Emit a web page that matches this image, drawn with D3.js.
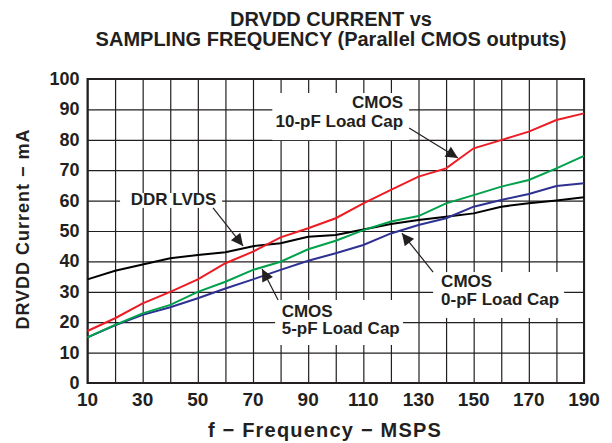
<!DOCTYPE html>
<html>
<head>
<meta charset="utf-8">
<script src="https://cdn.jsdelivr.net/npm/d3@7"></script>
<style>
  body { margin: 0; background: #fff; }
  text { font-family: "Liberation Sans", Arial, sans-serif; font-weight: bold; fill: #231f20; }
</style>
</head>
<body>
<div id="chart"></div>
<script>
// data (MSPS vs mA)
var freq = [10, 20, 30, 40, 50, 60, 70, 80, 90, 100, 110, 120, 130, 140, 150, 160, 170, 180, 190];
var ddrLvds = [34.1, 36.9, 39, 41, 42.1, 43, 45, 46, 48.1, 48.7, 50.5, 52.3, 53.6, 54.7, 55.8, 58, 59.1, 60, 61.1];
var cmos0pF = [15, 19, 22.4, 24.9, 27.9, 31.1, 34.1, 37.2, 40.2, 42.7, 45.4, 49.2, 52, 54.2, 58, 60.2, 62.2, 64.8, 65.7];
var cmos5pF = [15, 19.1, 22.9, 25.7, 30, 33.3, 37.2, 39.9, 44, 46.8, 50.3, 53.1, 54.9, 59.1, 61.8, 64.6, 66.8, 70.6, 74.7];
var cmos10pF = [17.1, 21.3, 26.2, 30, 34.1, 39.4, 43.2, 47.9, 50.9, 54.2, 59.1, 63.5, 67.9, 70.6, 77.2, 79.9, 82.7, 86.5, 88.7];

var xTicks = [10, 30, 50, 70, 90, 110, 130, 150, 170, 190];
var yTicks = [0, 10, 20, 30, 40, 50, 60, 70, 80, 90, 100];

var series = [
  {name: "DDR LVDS", values: ddrLvds, color: "#000000"},
  {name: "CMOS 0-pF", values: cmos0pF, color: "#2e3192"},
  {name: "CMOS 5-pF", values: cmos5pF, color: "#00a14b"},
  {name: "CMOS 10-pF", values: cmos10pF, color: "#ed1c24"}
];

// callouts, in data units
var notes = [
  {lines: ["CMOS", "10-pF Load Cap"], anchor: "end", tx: 124.4, ty: [90.5, 84.3],
   box: [77, 126.6, 95.4, 79.9], from: [126.6, 83.9], to: [144.3, 74]},
  {lines: ["DDR LVDS"], anchor: "middle", tx: 41.2, ty: [58.6],
   box: [21.8, 58.8, 62.5, 57.6], from: [55.5, 57.6], to: [66.4, 45.1]},
  {lines: ["CMOS", "5-pF Load Cap"], anchor: "start", tx: 80.4, ty: [21.8, 16.1],
   box: [78, 124.4, 27.3, 12.5], from: [79.1, 27.3], to: [73.3, 37.5]},
  {lines: ["CMOS", "0-pF Load Cap"], anchor: "start", tx: 138.2, ty: [31.7, 25.7],
   box: [135.3, 182.8, 36.5, 21.4], from: [135.3, 36.5], to: [124, 49.3]}
];

var W = 612, H = 443;
var margin = {top: 79, right: 28, bottom: 60, left: 87.5};
var width = W - margin.left - margin.right,
    height = H - margin.top - margin.bottom;

var svg = d3.select("#chart").append("svg")
    .attr("width", W)
    .attr("height", H);

var g = svg.append("g")
    .attr("transform", "translate(" + margin.left + "," + margin.top + ")");

var xScale = d3.scaleLinear().domain([10, 190]).range([0, width]);
var yScale = d3.scaleLinear().domain([0, 100]).range([height, 0]);

// gridlines
g.append("g")
    .attr("class", "grid")
    .call(d3.axisBottom(xScale).tickValues(freq).tickSize(height).tickFormat(""))
    .call(function(s) {
      s.select(".domain").remove();
      s.selectAll("line").attr("stroke", "#231f20").attr("stroke-width", 1.2);
    });
g.append("g")
    .attr("class", "grid")
    .call(d3.axisLeft(yScale).tickValues(yTicks).tickSize(-width).tickFormat(""))
    .call(function(s) {
      s.select(".domain").remove();
      s.selectAll("line").attr("stroke", "#231f20").attr("stroke-width", 1.2);
    });

// white boxes behind the callout text
g.selectAll(".notebox")
    .data(notes)
  .enter().append("rect")
    .attr("class", "notebox")
    .attr("x", function(d) { return xScale(d.box[0]); })
    .attr("y", function(d) { return yScale(d.box[2]); })
    .attr("width", function(d) { return xScale(d.box[1]) - xScale(d.box[0]); })
    .attr("height", function(d) { return yScale(d.box[3]) - yScale(d.box[2]); })
    .attr("fill", "#fff");

// frame
g.append("rect")
    .attr("width", width)
    .attr("height", height)
    .attr("fill", "none")
    .attr("stroke", "#231f20")
    .attr("stroke-width", 2);

// lines
var line = d3.line()
    .x(function(d, i) { return xScale(freq[i]); })
    .y(function(d) { return yScale(d); });

g.selectAll(".series")
    .data(series)
  .enter().append("path")
    .attr("class", "series")
    .attr("d", function(d) { return line(d.values); })
    .attr("fill", "none")
    .attr("stroke", function(d) { return d.color; })
    .attr("stroke-width", 2);

// callout text + arrows
svg.append("defs").append("marker")
    .attr("id", "head")
    .attr("viewBox", "0 0 10 10")
    .attr("refX", 10).attr("refY", 5)
    .attr("markerWidth", 14).attr("markerHeight", 12)
    .attr("markerUnits", "userSpaceOnUse")
    .attr("orient", "auto")
  .append("path")
    .attr("d", "M0,0 L10,5 L0,10 z")
    .attr("fill", "#231f20");

var note = g.selectAll(".note")
    .data(notes)
  .enter().append("g")
    .attr("class", "note");

note.append("line")
    .attr("x1", function(d) { return xScale(d.from[0]); })
    .attr("y1", function(d) { return yScale(d.from[1]); })
    .attr("x2", function(d) { return xScale(d.to[0]); })
    .attr("y2", function(d) { return yScale(d.to[1]); })
    .attr("stroke", "#231f20")
    .attr("stroke-width", 1.2)
    .attr("marker-end", "url(#head)");

note.each(function(d) {
  var sel = d3.select(this);
  d.lines.forEach(function(t, i) {
    sel.append("text")
      .attr("x", xScale(d.tx))
      .attr("y", yScale(d.ty[i]))
      .attr("text-anchor", d.anchor)
      .style("font-size", "17px")
      .text(t);
  });
});

// axes labels
g.selectAll(".xlab")
    .data(xTicks)
  .enter().append("text")
    .attr("class", "xlab")
    .attr("x", function(d) { return xScale(d); })
    .attr("y", height + 23)
    .attr("text-anchor", "middle")
    .style("font-size", "19px")
    .text(function(d) { return d; });

g.selectAll(".ylab")
    .data(yTicks)
  .enter().append("text")
    .attr("class", "ylab")
    .attr("x", -8)
    .attr("y", function(d) { return yScale(d) + 6; })
    .attr("text-anchor", "end")
    .style("font-size", "18px")
    .text(function(d) { return d; });

svg.append("text")
    .attr("x", 325)
    .attr("y", 437)
    .attr("text-anchor", "middle")
    .style("font-size", "20px")
    .style("letter-spacing", "1.2px")
    .text("f \u2212 Frequency \u2212 MSPS");

svg.append("text")
    .attr("transform", "translate(29,229) rotate(-90)")
    .attr("text-anchor", "middle")
    .style("font-size", "18px")
    .style("letter-spacing", "1px")
    .text("DRVDD Current \u2212 mA");

// title
var title = ["DRVDD CURRENT vs", "SAMPLING FREQUENCY (Parallel CMOS outputs)"];
svg.selectAll(".title")
    .data(title)
  .enter().append("text")
    .attr("class", "title")
    .attr("x", 331)
    .attr("y", function(d, i) { return 26 + i * 20; })
    .attr("text-anchor", "middle")
    .style("font-size", "20px")
    .text(function(d) { return d; });
</script>
</body>
</html>
